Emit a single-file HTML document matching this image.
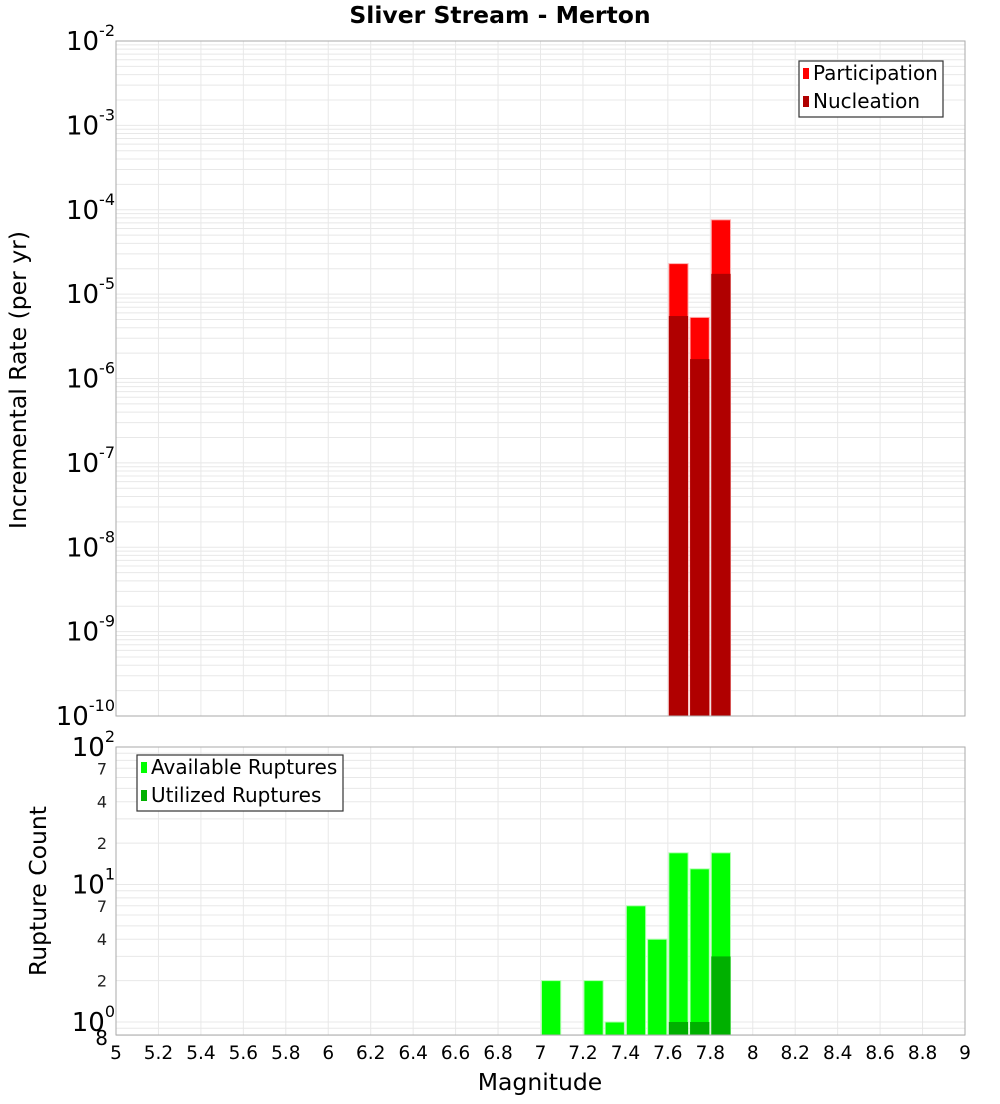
<!DOCTYPE html>
<html><head><meta charset="utf-8"><style>
body{margin:0;background:#fff;font-family:"DejaVu Sans","Liberation Sans",sans-serif;}
svg text{font-family:"DejaVu Sans","Liberation Sans",sans-serif;}
</style></head><body>
<svg id="chart" width="1000" height="1100" xmlns="http://www.w3.org/2000/svg">
<text x="500" y="23" text-anchor="middle" font-size="23.5" font-weight="bold">Sliver Stream - Merton</text>
<text transform="translate(26,380) rotate(-90)" text-anchor="middle" font-size="23.5">Incremental Rate (per yr)</text>
<text transform="translate(46,891) rotate(-90)" text-anchor="middle" font-size="23.5">Rupture Count</text>
<text x="540" y="1090" text-anchor="middle" font-size="23.5">Magnitude</text>
<g id="g"></g>
</svg>
<script>
const binCenters=[7.65,7.75,7.85];
const participation=[2.3e-5,5.3e-6,7.6e-5];
const nucleation=[5.5e-6,1.7e-6,1.74e-5];
const countBins=[7.05,7.25,7.35,7.45,7.55,7.65,7.75,7.85];
const available=[2,2,1,7,4,17,13,17];
const utilized=[0,0,0,0,0,1,1,3];
const xTicks=[5,5.2,5.4,5.6,5.8,6,6.2,6.4,6.6,6.8,7,7.2,7.4,7.6,7.8,8,8.2,8.4,8.6,8.8,9];
const topDecades=[-2,-3,-4,-5,-6,-7,-8,-9,-10];
const botMinorLabels=[2,4,7,20,40,70];

const NS="http://www.w3.org/2000/svg";
const g=document.getElementById('g');
const L=116,R=965;
const x=v=>L+(v-5)/4*(R-L);
const T1=41,B1=716;
const yTop=v=>T1+(-2-Math.log10(v))/8*(B1-T1);
const T2=747,B2=1035,dec2=137.5;
const yBot=v=>T2+(2-Math.log10(v))*dec2;
function el(tag,attrs,parent){const e=document.createElementNS(NS,tag);for(const k in attrs)e.setAttribute(k,attrs[k]);(parent||g).appendChild(e);return e;}

let p1=el('rect',{x:L,y:T1,width:R-L,height:B1-T1,fill:'#fff'});


let p2=el('rect',{x:L,y:T2,width:R-L,height:B2-T2,fill:'#fff'});



xTicks.forEach(t=>{
  [[T1,B1],[T2,B2]].forEach(([a,b])=>{
    const l=el('line',{x1:x(t),x2:x(t),y1:a,y2:b,stroke:'#e8e8e8','stroke-width':1});
    
    
  });
  const tx=el('text',{x:x(t),y:1059,'text-anchor':'middle','font-size':18.5});
  tx.textContent=String(t);
  
  
});
for(let d=-10;d<-2;d++){for(let m=1;m<10;m++){const v=m*Math.pow(10,d);const yy=yTop(v);
  const l=el('line',{x1:L,x2:R,y1:yy,y2:yy,stroke:'#e8e8e8','stroke-width':1});
  
  }}
topDecades.forEach(d=>{const yy=yTop(Math.pow(10,d));
  const t=el('text',{x:L-1,y:yy+9,'text-anchor':'end','font-size':26});
  
  
  const a=el('tspan',{},t);a.textContent='10';
  const b=el('tspan',{dy:-14,'font-size':16},t);b.textContent=String(d);
});
for(let d=-1;d<2;d++){for(let m=1;m<10;m++){const v=m*Math.pow(10,d);if(v<0.8)continue;const yy=yBot(v);
  const l=el('line',{x1:L,x2:R,y1:yy,y2:yy,stroke:'#e8e8e8','stroke-width':1});
  
  }}
[0,1,2].forEach(d=>{const yy=yBot(Math.pow(10,d));
  const t=el('text',{x:L-1,y:yy+9,'text-anchor':'end','font-size':26});
  
  
  const a=el('tspan',{},t);a.textContent='10';
  const b=el('tspan',{dy:-14,'font-size':16},t);b.textContent=String(d);
});
botMinorLabels.forEach(v=>{const t=el('text',{x:L-9,y:yBot(v)+6,'text-anchor':'end','font-size':16,fill:'#222'});
  t.textContent=String(v<10?v:v/10);
  
  });
{const t=el('text',{x:L-8,y:B2+10,'text-anchor':'end','font-size':20});t.textContent='8';
 
 }

const bw=(x(0.1)-x(0));
binCenters.forEach((c,i)=>{
  const x0=x(c-0.05)+1,w=bw-2;
  const a=el('rect',{x:x0,y:yTop(participation[i]),width:w,height:B1-yTop(participation[i]),fill:'#ff0000',stroke:'#ffb0b0','stroke-width':1});
  
  
  const b=el('rect',{x:x0,y:yTop(nucleation[i]),width:w,height:B1-yTop(nucleation[i]),fill:'#b00000'});
  
  
});
countBins.forEach((c,i)=>{
  const x0=x(c-0.05)+1,w=bw-2;
  if(available[i]>0){const a=el('rect',{x:x0,y:yBot(available[i]),width:w,height:B2-yBot(available[i]),fill:'#00ff00',stroke:'#b0ffb0','stroke-width':1});
  
  }
  if(utilized[i]>0){const b=el('rect',{x:x0,y:yBot(utilized[i]),width:w,height:B2-yBot(utilized[i]),fill:'#00b000'});
  
  }
});
[[T1,B1],[T2,B2]].forEach(([a,b])=>{const r=el('rect',{x:L,y:a,width:R-L,height:b-a,fill:'none',stroke:'#aaa','stroke-width':1});
  
  });

function legend(xx,yy,w,items,name){
  const gg=el('g',{});
  
  
  el('rect',{x:xx,y:yy,width:w,height:56,fill:'#fff',stroke:'#333','stroke-width':1.2},gg);
  items.forEach((it,i)=>{
    el('rect',{x:xx+4,y:yy+7+i*28,width:6,height:11,fill:it[1]},gg);
    const t=el('text',{x:xx+14,y:yy+19+i*28,'font-size':20},gg);t.textContent=it[0];
  });
}
legend(799,61,144,[['Participation','#ff0000'],['Nucleation','#b00000']],'top-legend');
legend(137,755,206,[['Available Ruptures','#00ff00'],['Utilized Ruptures','#00b000']],'bottom-legend');
</script>
</body></html>
